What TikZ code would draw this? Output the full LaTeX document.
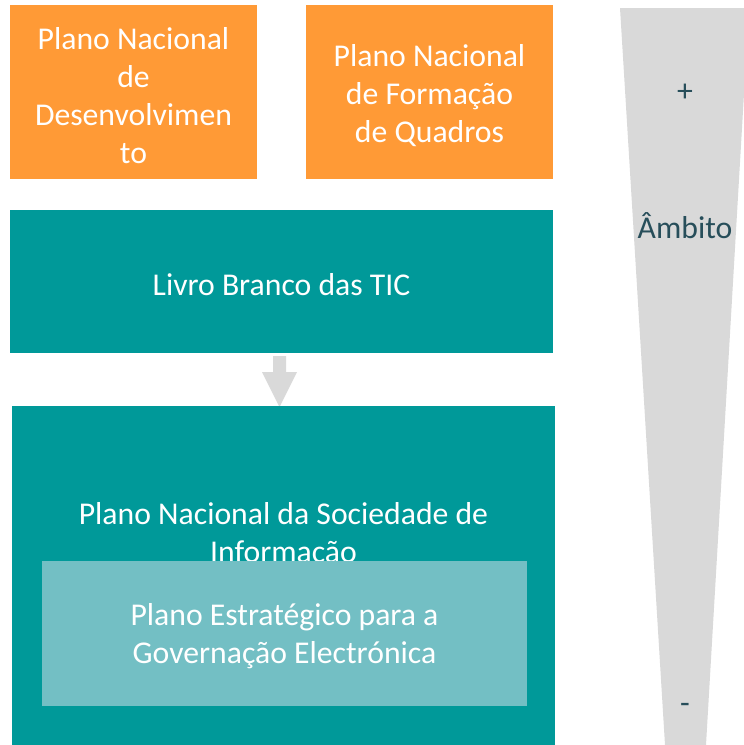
\documentclass[tikz,border=0pt]{standalone}
\usepackage{fontspec}
\setmainfont{Carlito}
\definecolor{orng}{HTML}{FF9A36}
\definecolor{teal1}{HTML}{009999}
\definecolor{lteal}{HTML}{73BFC4}
\definecolor{lgray}{HTML}{D9D9D9}
\definecolor{darktxt}{HTML}{274E5A}
\tikzset{
  box/.style={draw=none, inner sep=0pt, outer sep=0pt, text=white, align=center, font=\fontsize{31.7}{38}\selectfont},
  side/.style={text=darktxt, font=\fontsize{31.7}{38}\selectfont}
}
\begin{document}
\begin{tikzpicture}[x=1pt,y=-1pt]
\useasboundingbox (0,0) rectangle (744,745);
% right scope wedge
\fill[lgray] (620,8) -- (749,8) -- (706,745) -- (665,745) -- cycle;
\node[side] (plus) at (685,93) {+};
\node[side] (ambito) at (685,226) {Âmbito};
\node[side] (minus) at (685,708) {-};
% orange boxes
\fill[orng] (10,5) rectangle (257,179);
\node[box] (pnd) at (133.5,95.5) {Plano Nacional\\de\\Desenvolvimen\\to};
\fill[orng] (306,5) rectangle (553,179);
\node[box] (pnfq) at (429.5,95.5) {Plano Nacional\\de Formação\\de Quadros};
% livro branco
\fill[teal1] (10,210) rectangle (553,353);
\node[box] (lb) at (281.5,284.5) {Livro Branco das TIC};
% arrow
\fill[lgray] (273,356) -- (286,356) -- (286,372) -- (297,372) -- (279.5,407) -- (262,372) -- (273,372) -- cycle;
% big box
\fill[teal1] (12,406) rectangle (555,745);
\node[box] (pnsi) at (283.5,535) {Plano Nacional da Sociedade de\\Informação};
% inner box
\fill[lteal] (42,561) rectangle (527,706);
\node[box] (pegE) at (284.5,636) {Plano Estratégico para a\\Governação Electrónica};
\end{tikzpicture}
\end{document}
